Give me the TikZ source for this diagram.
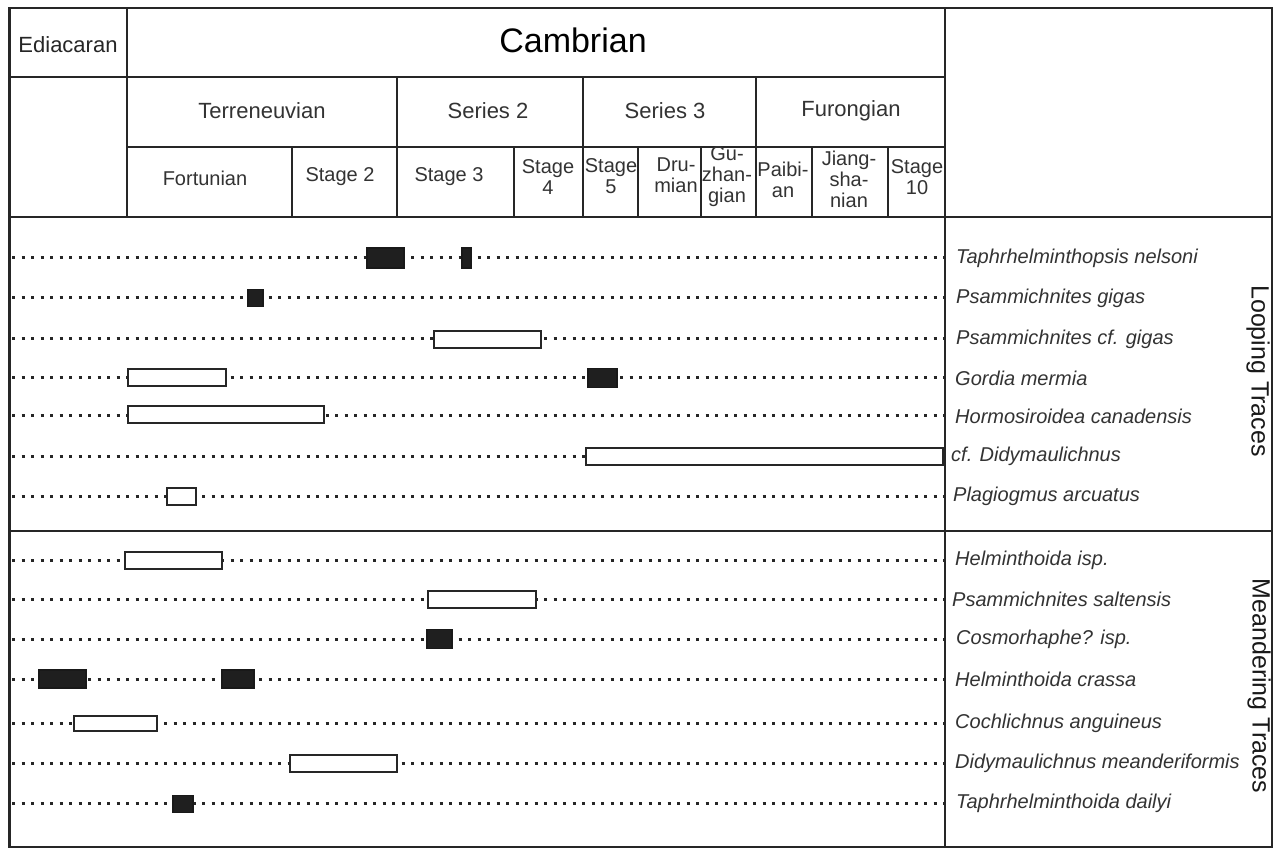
\documentclass[tikz,border=0pt]{standalone}
\usepackage{fontspec}
\setmainfont{Liberation Sans}
\begin{document}
\begin{tikzpicture}[x=1pt,y=-1pt,
  frame/.style={line width=2pt, draw=black!85},
  grid/.style={line width=1.8pt, draw=black!85},
  dots/.style={line width=3pt, draw=black!85, dash pattern=on 3pt off 6.5pt},
  openbar/.style={line width=2pt, draw=black!85, fill=white},
  fullbar/.style={line width=1.2pt, draw=black!90, fill=black!88},
  taxon/.style={anchor=west, font=\fontsize{20}{22}\selectfont\itshape, text=black!80, inner sep=0pt},
  hdr/.style={font=\fontsize{20}{21}\selectfont, text=black!80, align=center, inner sep=0pt},
  ser/.style={font=\fontsize{22}{24}\selectfont, text=black!80, inner sep=0pt},
  grp/.style={font=\fontsize{25}{27}\selectfont, text=black!90, rotate=-90, inner sep=0pt}]
\useasboundingbox[fill=white] (0,0) rectangle (1278,850);

% frame and grid
\draw[frame] (9,8) rectangle (1272,847);
\draw[line width=3pt, draw=black!85] (9,8) -- (9,847);
\draw[grid] (127,8) -- (127,217);
\draw[grid] (945,8) -- (945,847);
\draw[grid] (9,77) -- (945,77);
\draw[grid] (127,147) -- (945,147);
\draw[grid] (9,217) -- (1272,217);
\draw[grid] (9,531) -- (1272,531);
\foreach \x in {397,583,756} \draw[grid] (\x,77) -- (\x,217);
\foreach \x in {292,514,638,701,812,888} \draw[grid] (\x,147) -- (\x,217);

% header texts
\node[font=\fontsize{22}{24}\selectfont, text=black!85, inner sep=0pt] (edi) at (68,45) {Ediacaran};
\node[font=\fontsize{34}{36}\selectfont, text=black, inner sep=0pt] (cam) at (573,40) {Cambrian};
\node[ser] (ter) at (262,111) {Terreneuvian};
\node[ser] (s2) at (488,111) {Series 2};
\node[ser] (s3) at (665,111) {Series 3};
\node[ser] (fur) at (851,111) {Furongian};
\node[hdr] (fortu) at (205,178) {Fortunian};
\node[hdr] (st2) at (340,177) {Stage 2};
\node[hdr] (st3) at (449,177) {Stage 3};
\node[hdr] (st4) at (548,177) {Stage\\4};
\node[hdr] (st5) at (611,176) {Stage\\5};
\node[hdr] (dru) at (676,175) {Dru-\\mian};
\node[hdr] (guz) at (727,177) {Gu-\\zhan-\\gian};
\node[hdr] (pai) at (783,180) {Paibi-\\an};
\node[hdr] (jia) at (849,179) {Jiang-\\sha-\\nian};
\node[hdr] (s10) at (917,177) {Stage\\10};

% rows: dotted ranges and taxon names
\foreach \i/\yy/\lx/\txt in {
  1/258/956/{Taphrhelminthopsis nelsoni},
  2/298/956/{Psammichnites gigas},
  3/339/956/{Psammichnites cf. gigas},
  4/378/955/{Gordia mermia},
  5/416/955/{Hormosiroidea canadensis},
  6/456/951/{cf. Didymaulichnus},
  7/496/953/{Plagiogmus arcuatus},
  8/560/955/{Helminthoida isp.},
  9/599/952/{Psammichnites saltensis},
  10/639/956/{Cosmorhaphe? isp.},
  11/679/955/{Helminthoida crassa},
  12/723/955/{Cochlichnus anguineus},
  13/763/955/{Didymaulichnus meanderiformis},
  14/803/956/{Taphrhelminthoida dailyi}} {
  \coordinate (s\i) at (12,\yy);
  \coordinate (e\i) at (945,\yy);
  \draw[dots] (s\i) -- (e\i);
  \node[taxon] (t\i) at (\lx,\yy) {\txt};
}

% range bars
\foreach \xa/\xb/\yy/\h/\st in {
  367/404/258/10/fullbar, 462/471/258/10/fullbar,
  248/263/298/8.5/fullbar,
  434/541/340/8.5/openbar,
  128/226/378/8.5/openbar, 588/617/378/9.5/fullbar,
  128/324/415/8.5/openbar,
  586/943/456/8.5/openbar,
  167/196/496/8.5/openbar,
  125/222/560/8.5/openbar,
  428/536/599/8.5/openbar,
  427/452/639/9.5/fullbar,
  39/86/679/9/fullbar, 222/254/679/9/fullbar,
  74/157/723/7.5/openbar,
  290/397/763/8.5/openbar,
  173/193/804/8.5/fullbar} {
  \draw[\st] (\xa,\yy-\h) rectangle (\xb,\yy+\h);
}

% group labels
\node[grp] (loop) at (1258,371) {Looping Traces};
\node[grp] (mean) at (1259,686) {Meandering Traces};
\end{tikzpicture}
\end{document}
